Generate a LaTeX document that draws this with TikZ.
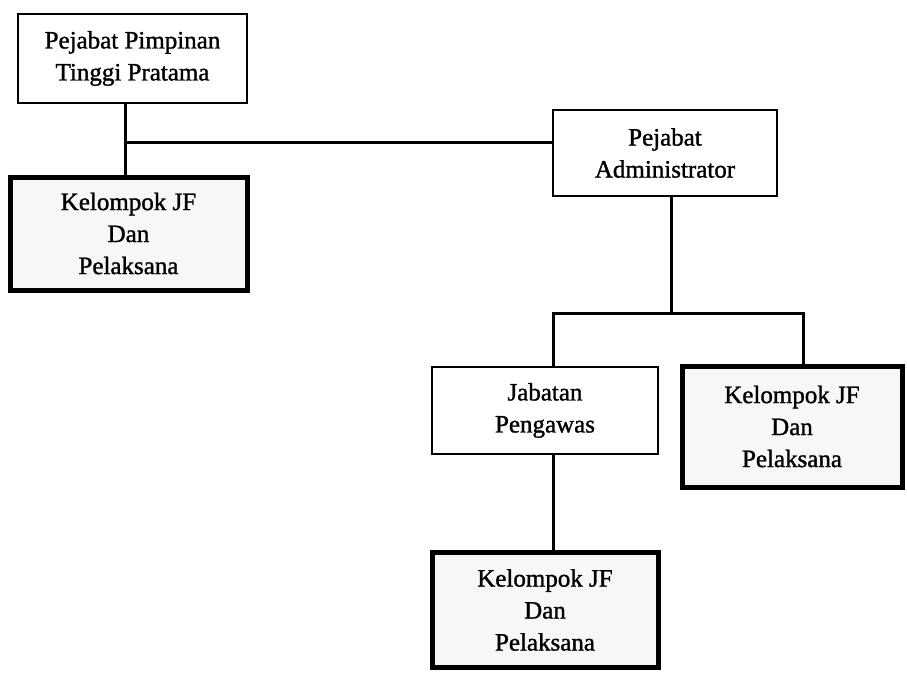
\documentclass[tikz,border=0pt]{standalone}
\usepackage{fontspec}
\setmainfont{Liberation Serif}[FakeBold=1.2]
\begin{document}
\begin{tikzpicture}[x=1pt,y=-1pt,
  every node/.style={font=\fontsize{25}{32}\selectfont, align=center, inner sep=0pt},
  plainbox/.style={draw, line width=2.6pt, fill=white},
  jfbox/.style={draw, line width=5pt, fill=black!3},
  link/.style={line width=3pt}]
\useasboundingbox (0,0) rectangle (907,672);
\fill[white] (0,0) rectangle (907,672);
% boxes
\node[plainbox, minimum width=229pt, minimum height=89pt] (ppt) at (132.5,58.5) {Pejabat Pimpinan\\Tinggi Pratama};
\node[jfbox, minimum width=237pt, minimum height=113pt] (jf1) at (128.5,233.5) {Kelompok JF\\Dan\\Pelaksana};
\node[plainbox, minimum width=224pt, minimum height=86pt] (adm) at (665,153) {Pejabat\\Administrator};
\node[plainbox, minimum width=226pt, minimum height=87pt] (peng) at (545,410.5) {Jabatan\\Pengawas};
\node[jfbox, minimum width=220pt, minimum height=121pt] (jf2) at (792,426.5) {Kelompok JF\\Dan\\Pelaksana};
\node[jfbox, minimum width=226pt, minimum height=115pt] (jf3) at (545,610) {Kelompok JF\\Dan\\Pelaksana};
% junction coordinates
\coordinate (j1) at (125,142);
\coordinate (j2) at (671,313);
\coordinate (jl) at (553,313);
\coordinate (jr) at (803,313);
% connectors
\draw[link] (j1 |- ppt.south) -- (j1 |- jf1.north);
\draw[link] (j1) -- (j1 -| adm.west);
\draw[link] (j2 |- adm.south) -- (j2);
\draw[link] (jl |- peng.north) -- (jl) -- (jr) -- (jr |- jf2.north);
\draw[link] (jl |- peng.south) -- (jl |- jf3.north);
\end{tikzpicture}
\end{document}
